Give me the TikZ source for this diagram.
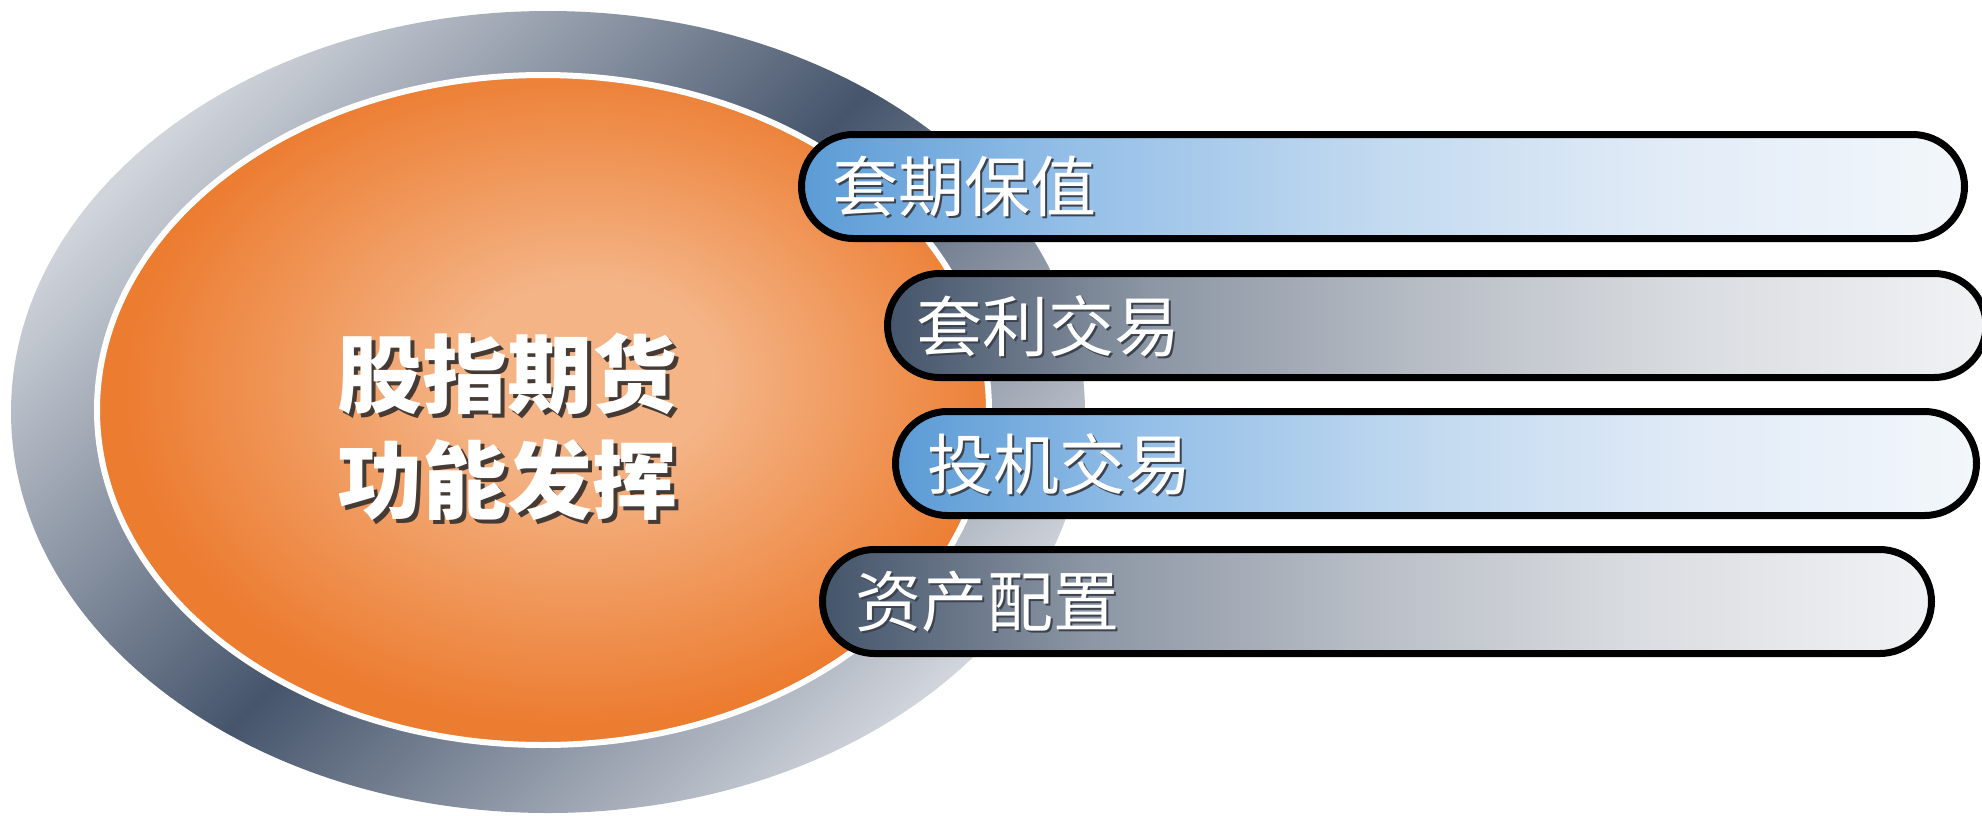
\documentclass[tikz,border=0pt]{standalone}
\usepackage{fontspec}
\newfontfamily\cjk{Noto Sans CJK SC}
\definecolor{ringL}{RGB}{208,212,219}
\definecolor{ringD}{RGB}{70,85,108}
\definecolor{orL}{RGB}{244,180,134}
\definecolor{orD}{RGB}{236,124,48}
\definecolor{bA}{RGB}{91,155,213}
\definecolor{bB}{RGB}{150,192,232}
\definecolor{bC}{RGB}{195,218,240}
\definecolor{bD}{RGB}{225,235,247}
\definecolor{bE}{RGB}{243,247,251}
\definecolor{gA}{RGB}{68,84,106}
\definecolor{gB}{RGB}{140,150,164}
\definecolor{gC}{RGB}{186,191,199}
\definecolor{gD}{RGB}{218,221,225}
\definecolor{gE}{RGB}{241,242,244}
\definecolor{shadowc}{RGB}{70,58,52}
\definecolor{barshadowc}{RGB}{60,66,78}
\newcommand\shadowed[3]{\leavevmode\rlap{\kern#2\raisebox{-#2}{\textcolor{#3}{#1}}}#1}
\pgfdeclarehorizontalshading{ringshade}{100bp}{color(0bp)=(ringL); color(25bp)=(ringL); color(50bp)=(ringD); color(75bp)=(ringL); color(100bp)=(ringL)}
\pgfdeclareradialshading{orangeglow}{\pgfpoint{3bp}{3bp}}{color(0bp)=(orL); color(7bp)=(orL); color(25bp)=(orD); color(50bp)=(orD)}
\pgfdeclarehorizontalshading{blueshade}{100bp}{color(0bp)=(bA); color(25bp)=(bA); color(37bp)=(bB); color(50bp)=(bC); color(62bp)=(bD); color(75bp)=(bE); color(100bp)=(bE)}
\pgfdeclarehorizontalshading{grayshade}{100bp}{color(0bp)=(gA); color(25bp)=(gA); color(37bp)=(gB); color(50bp)=(gC); color(62bp)=(gD); color(75bp)=(gE); color(100bp)=(gE)}
\tikzset{
  barbox/.style={draw=black, line width=3.5pt, rounded corners=26pt, minimum height=52pt, inner sep=0pt, shade},
  bluebar/.style={barbox, shading=blueshade},
  graybar/.style={barbox, shading=grayshade},
  bartext/.style={anchor=west, inner sep=0pt, text=white, font=\cjk\fontsize{33}{33}\selectfont},
  centertext/.style={inner sep=0pt, align=center, text=white, font=\cjk\bfseries\fontsize{42.5}{53}\selectfont}
}
\begin{document}
\begin{tikzpicture}[x=0.5pt,y=-0.5pt]
\useasboundingbox (0,0) rectangle (1982,815);
% outer ring
\path[shade, shading=ringshade, shading angle=-45] (548,412) ellipse [x radius=537, y radius=401];
% orange ellipse
\path[shade, shading=orangeglow, draw=white, line width=3pt] (543,410) ellipse [x radius=446, y radius=335];
% central text
\node[centertext] (ct) at (507,429) {\shadowed{股指期货}{2pt}{shadowc}\\\shadowed{功能发挥}{2pt}{shadowc}};
% bars
\node[bluebar, minimum width=581.5pt] (b1) at (1383,186.5) {};
\node[graybar, minimum width=549.25pt] (b2) at (1436.75,325.5) {};
\node[bluebar, minimum width=540.5pt] (b3) at (1436,463.5) {};
\node[graybar, minimum width=554.5pt] (b4) at (1377,601.5) {};
% bar texts
\node[bartext] (t1) at (832,188) {\shadowed{套期保值}{1pt}{barshadowc}};
\node[bartext] (t2) at (916,327) {\shadowed{套利交易}{1pt}{barshadowc}};
\node[bartext] (t3) at (927,465) {\shadowed{投机交易}{1pt}{barshadowc}};
\node[bartext] (t4) at (855,603) {\shadowed{资产配置}{1pt}{barshadowc}};
\end{tikzpicture}
\end{document}
